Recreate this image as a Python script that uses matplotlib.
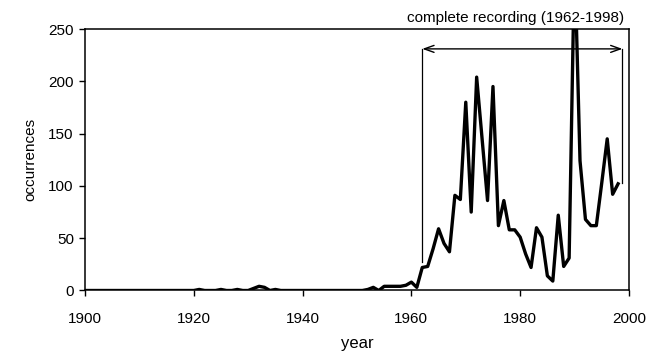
import matplotlib
matplotlib.use("Agg")
import matplotlib.pyplot as plt

plt.rcParams["font.family"] = ["Liberation Sans", "DejaVu Sans"]

# annual occurrence counts, 1900-1998
years = list(range(1900, 1999))
occurrences = (
    [0] * 20  # 1900-1919
    + [0, 1, 0, 0, 0, 1, 0, 0, 1, 0]  # 1920s
    + [0, 2, 4, 3, 0, 1, 0, 0, 0, 0]  # 1930s
    + [0] * 10  # 1940s
    + [0, 0, 1, 3, 0, 4, 4, 4, 4, 5]  # 1950s
    + [8, 3, 22, 23, 40, 59, 45, 37, 91, 87]  # 1960s
    + [180, 75, 204, 145, 86, 195, 62, 86, 58, 58]  # 1970s
    + [51, 35, 22, 60, 51, 14, 9, 72, 23, 31]  # 1980s
    + [320, 124, 68, 62, 62, 103, 145, 92, 102]  # 1990-1998
)

x_ticks = [1900, 1920, 1940, 1960, 1980, 2000]
y_ticks = [0, 50, 100, 150, 200, 250]

# bracket marking the complete-recording period
bracket_label = "complete recording (1962-1998)"
bracket_start, bracket_end = 1962, 1998.8
bracket_level = 231
bracket_start_low, bracket_end_low = 27, 103

fig = plt.figure(figsize=(6.66, 3.56), dpi=100)
ax = fig.add_axes([0.1276, 0.184, 0.8168, 0.7345])

ax.plot(years, occurrences, color="black", linewidth=2.4)

# vertical legs and double arrow
ax.plot([bracket_start, bracket_start], [bracket_start_low, bracket_level],
        color="black", linewidth=0.9)
ax.plot([bracket_end, bracket_end], [bracket_end_low, bracket_level],
        color="black", linewidth=0.9)
ax.annotate("", xy=(bracket_start, bracket_level), xytext=(bracket_end, bracket_level),
            arrowprops=dict(arrowstyle="<->,head_length=0.7,head_width=0.25",
                            color="black", lw=1.0, shrinkA=0, shrinkB=0))

fig.text(516 / 666, 1 - 18 / 356, bracket_label, ha="center", va="center",
         fontsize=11)

ax.set_xlim(1900, 2000)
ax.set_ylim(0, 250)
ax.set_xticks(x_ticks)
ax.set_yticks(y_ticks)
ax.tick_params(axis="both", direction="out", length=4, width=1, labelsize=11)
ax.tick_params(axis="x", pad=11.5)
ax.tick_params(axis="y", pad=4)
for s in ax.spines.values():
    s.set_linewidth(1.1)

ax.set_xlabel("year", fontsize=12, labelpad=7)
ax.set_ylabel("occurrences", fontsize=11, labelpad=8)

fig.savefig("out.png", dpi=100)
